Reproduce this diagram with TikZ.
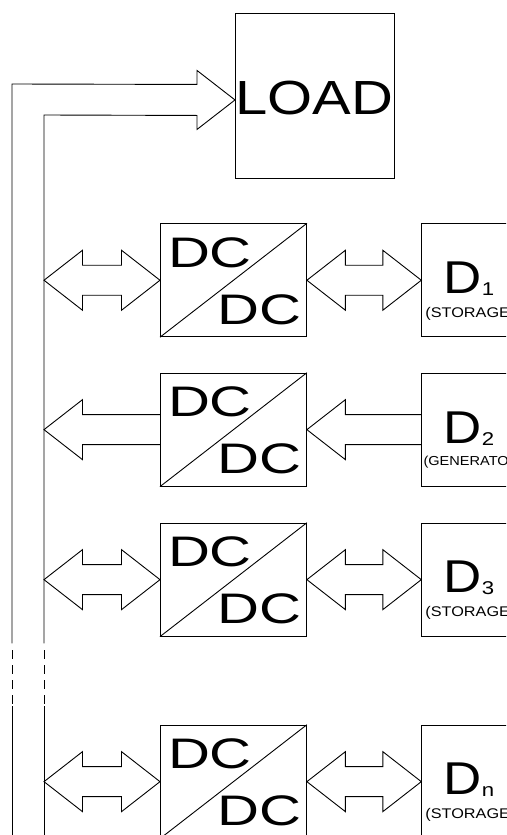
\documentclass[tikz,border=0pt]{standalone}
\usepackage{fontspec}
\setmainfont{Liberation Sans}
\usetikzlibrary{calc}

% block arrow with heads at both ends, from point #1 (left) to point #2 (right)
\newcommand{\twowayarrow}[2]{%
  \draw (#1) -- ($(#1)+(38.5,-30)$) -- ($(#1)+(38.5,-15)$)
        -- ($(#2)+(-38.5,-15)$) -- ($(#2)+(-38.5,-30)$) -- (#2)
        -- ($(#2)+(-38.5,30)$) -- ($(#2)+(-38.5,15)$)
        -- ($(#1)+(38.5,15)$) -- ($(#1)+(38.5,30)$) -- cycle;}
% block arrow pointing left: tip at #1, tail on the edge at #2
\newcommand{\leftwardarrow}[2]{%
  \draw ($(#2)+(0,-15)$) -- ($(#1)+(38.5,-15)$) -- ($(#1)+(38.5,-30)$) -- (#1)
        -- ($(#1)+(38.5,30)$) -- ($(#1)+(38.5,15)$) -- ($(#2)+(0,15)$);}

\begin{document}
\begin{tikzpicture}[x=1pt,y=-1pt,line width=0.9pt,line join=miter,
  convbox/.style={draw,rectangle,inner sep=0pt,minimum width=146pt,minimum height=113pt,anchor=north west},
  devbox/.style={draw,rectangle,inner sep=0pt,minimum width=110pt,minimum height=113pt,anchor=north west},
  dctext/.style={inner sep=0pt,anchor=base,font=\fontsize{42.7pt}{42.7pt}\selectfont},
  devtext/.style={inner sep=0pt,anchor=base west,font=\fontsize{46pt}{46pt}\selectfont},
  kindtext/.style={inner sep=0pt,anchor=base west,font=\fontsize{14pt}{14pt}\selectfont},
  busdash/.style={dash pattern=on 8.5pt off 6.5pt}]
\useasboundingbox (0,0) rectangle (506,835);
\clip (0,0) rectangle (506,835);

\newcommand{\dcdc}[1]{\scalebox{1.36}[1]{DC}}
\newcommand{\devname}[1]{\scalebox{1.15}[1]{D}\raisebox{-2pt}{\fontsize{18.5pt}{18.5pt}\selectfont\scalebox{1.2}[1]{#1}}}

% load
\node[draw,rectangle,inner sep=0pt,minimum width=159pt,minimum height=164.4pt,anchor=north west] (load) at (235,13.3) {};
\node[inner sep=0pt,anchor=base,font=\fontsize{47.9pt}{47.9pt}\selectfont] (loadtext)
  at ($(load.north west)+(79,101)$) {\scalebox{1.21}[1]{LOAD}};

% converters
\foreach \i/\top in {1/223.3,2/372.7,3/522.7,4/724.7}{
  \node[convbox] (dc\i) at (160,\top) {};
  \draw (dc\i.south west) -- (dc\i.north east);
  \node[dctext] (dc\i a) at ($(dc\i.north west)+(50,44)$) {\dcdc{}};
  \node[dctext] (dc\i b) at ($(dc\i.north west)+(99.2,101)$) {\dcdc{}};
  \node[devbox] (d\i) at (421.3,\top) {};
}

% devices
\node[devtext] (d1t) at ($(d1.north west)+(22,70)$) {\devname{1}};
\node[devtext] (d2t) at ($(d2.north west)+(22,71)$) {\devname{2}};
\node[devtext] (d3t) at ($(d3.north west)+(22,70)$) {\devname{3}};
\node[devtext] (d4t) at ($(d4.north west)+(22,70)$) {\devname{n}};
\node[kindtext] (d1k) at ($(d1.north west)+(3.7,94)$) {\scalebox{1.16}[1]{(STORAGE)}};
\node[kindtext,font=\fontsize{13pt}{13pt}\selectfont] (d2k) at ($(d2.north west)+(1.8,92.3)$) {\scalebox{1.12}[1]{(GENERATOR)}};
\node[kindtext] (d3k) at ($(d3.north west)+(3.7,94)$) {\scalebox{1.16}[1]{(STORAGE)}};
\node[kindtext] (d4k) at ($(d4.north west)+(3.7,94)$) {\scalebox{1.16}[1]{(STORAGE)}};

% bus lines
\coordinate (outertop) at (12,84);
\coordinate (innertop) at (44,115);
\coordinate (outerbreak) at (12,643.3);
\coordinate (innerbreak) at (44,643.3);
\coordinate (outerresume) at (12,706);
\coordinate (innerresume) at (44,706);
\coordinate (outerend) at (12,840);
\coordinate (innerend) at (44,840);
\coordinate (loadtip) at ([yshift=-4pt]load.west);

\draw (outerbreak) -- (outertop) -- ($(loadtip)+(-38,-15.5)$) -- ($(loadtip)+(-38,-29.5)$)
  -- (loadtip) -- ($(loadtip)+(-38,29.5)$) -- ($(loadtip)+(-38,15.5)$) -- (innertop) -- (innerbreak);
\draw[busdash] (12,650) -- (12,703.5);
\draw[busdash] (44,650) -- (44,703.5);
\draw (outerresume) -- (outerend);
\draw (innerresume) -- (innerend);

% power flow arrows
\foreach \i in {1,2,3,4}{
  \coordinate (b\i) at (innertop |- dc\i.west);
}
\twowayarrow{b1}{dc1.west}
\twowayarrow{dc1.east}{d1.west}
\leftwardarrow{b2}{dc2.west}
\leftwardarrow{dc2.east}{d2.west}
\twowayarrow{b3}{dc3.west}
\twowayarrow{dc3.east}{d3.west}
\twowayarrow{b4}{dc4.west}
\twowayarrow{dc4.east}{d4.west}
\end{tikzpicture}
\end{document}
